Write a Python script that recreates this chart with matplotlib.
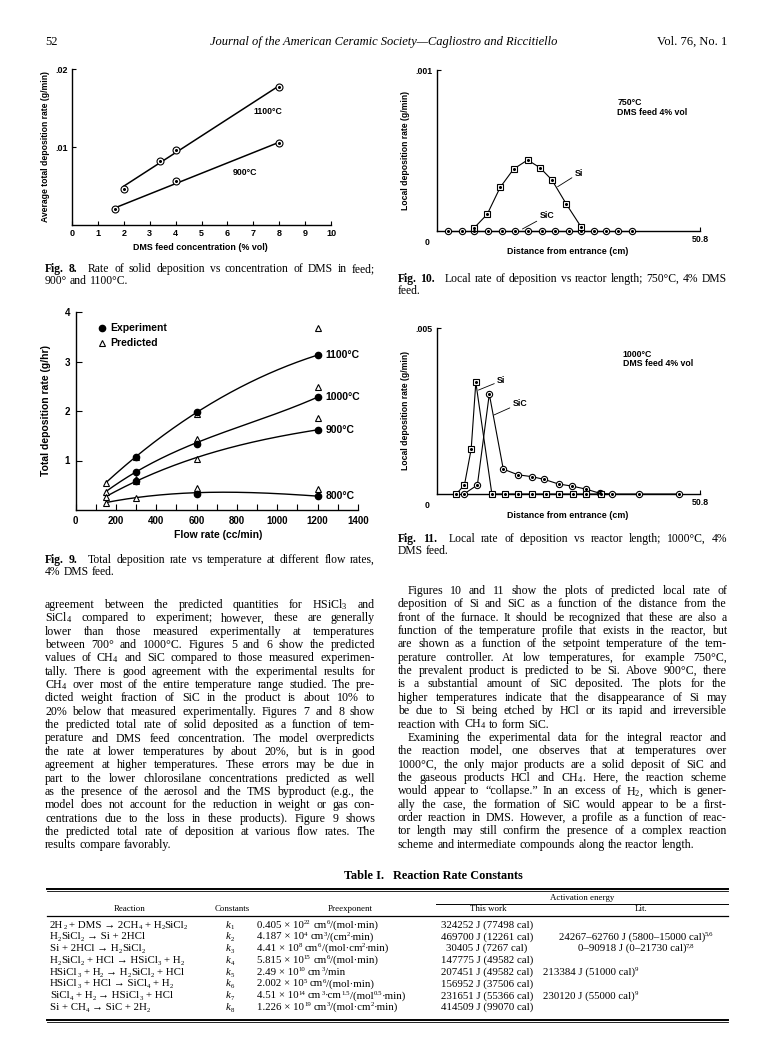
import re
import numpy as np
import matplotlib
matplotlib.use('Agg')
import matplotlib.pyplot as plt

plt.rcParams['mathtext.fontset'] = 'custom'
plt.rcParams['mathtext.rm'] = 'Liberation Serif'
plt.rcParams['mathtext.it'] = 'Liberation Serif:italic'
plt.rcParams['mathtext.bf'] = 'Liberation Serif:bold'
plt.rcParams['mathtext.default'] = 'regular'

SERIF = 'Liberation Serif'
SERIF_FB = ['Liberation Serif', 'DejaVu Serif']
SANS = 'Liberation Sans'

# ---------------- data ----------------
# Fig. 8
fig8_conc_1100 = [2.0, 3.4, 4.0, 8.0]
fig8_rate_1100 = [0.0046, 0.0082, 0.0096, 0.0177]
fig8_conc_900 = [1.65, 4.0, 8.0]
fig8_rate_900 = [0.0020, 0.0056, 0.0105]
fig8_xticks = list(range(0, 11))
fig8_yticks = [0.01, 0.02]
fig8_ylabels = ['.01', '.02']

# Fig. 9
fig9_curve_flow = [150, 300, 600, 1200]
fig9_curve_1100 = [0.55, 1.08, 1.97, 3.13]
fig9_curve_1000 = [0.37, 0.77, 1.36, 2.28]
fig9_curve_900 = [0.27, 0.58, 1.06, 1.62]
fig9_curve_800 = [0.15, 0.25, 0.35, 0.28]
fig9_pred_flow = [150, 300, 600, 1200]
fig9_pred_1100 = [0.55, 1.07, 1.93, 3.68]
fig9_pred_1000 = [0.37, 0.62, 1.43, 2.48]
fig9_pred_900 = [0.27, 0.58, 1.04, 1.85]
fig9_pred_800 = [0.15, 0.24, 0.44, 0.42]
fig9_exp_flow = [300, 600, 1200]
fig9_exp_1100 = [1.08, 1.97, 3.13]
fig9_exp_1000 = [0.77, 1.33, 2.28]
fig9_exp_900 = [0.58, np.nan, 1.62]
fig9_exp_800 = [np.nan, 0.33, 0.28]
fig9_temps = ['1100°C', '1000°C', '900°C', '800°C']
fig9_xticks = [0, 200, 400, 600, 800, 1000, 1200, 1400]
fig9_yticks = [1, 2, 3, 4]

# Fig. 10 (750 C)
fig10_sic_x = [2.2, 4.8, 7.2, 9.8, 12.5, 15.1, 17.6, 20.2, 22.8, 25.4, 27.8, 30.3, 32.6, 35.0, 37.6]
fig10_sic_y = [0, 0, 0, 0, 0, 0, 0, 0, 0, 0, 0, 0, 0, 0, 0]
fig10_si_x = [7.2, 9.7, 12.2, 14.8, 17.5, 19.9, 22.2, 25.0, 27.8]
fig10_si_y = [0.00002, 0.000104, 0.000271, 0.000385, 0.000441, 0.000393, 0.000317, 0.000166, 0.000027]

# Fig. 11 (1000 C)
fig11_si_x = [3.7, 5.3, 6.6, 7.5, 10.6, 13.1, 15.7, 18.4, 21.0, 23.6, 26.3, 28.7, 31.6]
fig11_si_y = [0, 0.00027, 0.00135, 0.00336, 0, 0, 0, 0, 0, 0, 0, 0, 0]
fig11_sic_x = [5.2, 7.8, 10.1, 12.8, 15.6, 18.4, 20.7, 23.5, 26.0, 28.7, 31.5, 33.8, 39.0, 46.7]
fig11_sic_y = [0, 0.00027, 0.00301, 0.00075, 0.00058, 0.00052, 0.00044, 0.0003, 0.00024, 0.00015, 0.00002, 0, 0, 0]

# Table I  (markup: _{..} subscript, ^{..} superscript)
tab_reactions = [
    "2H_{2} + DMS → 2CH_{4} + H_{2}SiCl_{2}",
    "H_{2}SiCl_{2} → Si + 2HCl",
    "Si + 2HCl → H_{2}SiCl_{2}",
    "H_{2}SiCl_{2} + HCl → HSiCl_{3} + H_{2}",
    "HSiCl_{3} + H_{2} → H_{2}SiCl_{2} + HCl",
    "HSiCl_{3} + HCl → SiCl_{4} + H_{2}",
    "SiCl_{4} + H_{2} → HSiCl_{3} + HCl",
    "Si + CH_{4} → SiC + 2H_{2}",
]
tab_constants = ["1", "2", "3", "4", "5", "6", "7", "8"]
tab_preexp = [
    "0.405 × 10^{22} cm^{6}/(mol·min)",
    "4.187 × 10^{4} cm^{3}/(cm^{2}·min)",
    "4.41 × 10^{8} cm^{6}/(mol·cm^{2}·min)",
    "5.815 × 10^{15} cm^{6}/(mol·min)",
    "2.49 × 10^{10} cm^{3}/min",
    "2.002 × 10^{5} cm^{6}/(mol·min)",
    "4.51 × 10^{14} cm^{3}·cm^{1.5}/(mol^{0.5}·min)",
    "1.226 × 10^{19} cm^{3}/(mol·cm^{2}·min)",
]
tab_thiswork = ["324252 J (77498 cal)", "469700 J (12261 cal)", "30405 J (7267 cal)",
                "147775 J (49582 cal)", "207451 J (49582 cal)", "156952 J (37506 cal)",
                "231651 J (55366 cal)", "414509 J (99070 cal)"]
tab_lit = ["", "24267–62760 J (5800–15000 cal)^{5,6}", "0–90918 J (0–21730 cal)^{7,8}",
           "", "213384 J (51000 cal)^{9}", "", "230120 J (55000 cal)^{9}", ""]
tab_lit_align = ['center', 'center', 'center', 'center', 'left', 'center', 'left', 'center']

left_lines = [
    r"agreement between the predicted quantities for HSiCl$_3$ and",
    r"SiCl$_4$ compared to experiment; however, these are generally",
    "lower than those measured experimentally at temperatures",
    "between 700° and 1000°C. Figures 5 and 6 show the predicted",
    r"values of CH$_4$ and SiC compared to those measured experimen-",
    "tally. There is good agreement with the experimental results for",
    r"CH$_4$ over most of the entire temperature range studied. The pre-",
    "dicted weight fraction of SiC in the product is about 10% to",
    "20% below that measured experimentally. Figures 7 and 8 show",
    "the predicted total rate of solid deposited as a function of tem-",
    "perature and DMS feed concentration. The model overpredicts",
    "the rate at lower temperatures by about 20%, but is in good",
    "agreement at higher temperatures. These errors may be due in",
    "part to the lower chlorosilane concentrations predicted as well",
    "as the presence of the aerosol and the TMS byproduct (e.g., the",
    "model does not account for the reduction in weight or gas con-",
    "centrations due to the loss in these products). Figure 9 shows",
    "the predicted total rate of deposition at various flow rates. The",
    "results compare favorably.",
]
right_lines = [
    "Figures 10 and 11 show the plots of predicted local rate of",
    "deposition of Si and SiC as a function of the distance from the",
    "front of the furnace. It should be recognized that these are also a",
    "function of the temperature profile that exists in the reactor, but",
    "are shown as a function of the setpoint temperature of the tem-",
    "perature controller. At low temperatures, for example 750°C,",
    "the prevalent product is predicted to be Si. Above 900°C, there",
    "is a substantial amount of SiC deposited. The plots for the",
    "higher temperatures indicate that the disappearance of Si may",
    "be due to Si being etched by HCl or its rapid and irreversible",
    r"reaction with CH$_4$ to form SiC.",
    "Examining the experimental data for the integral reactor and",
    "the reaction model, one observes that at temperatures over",
    "1000°C, the only major products are a solid deposit of SiC and",
    r"the gaseous products HCl and CH$_4$. Here, the reaction scheme",
    r"would appear to “collapse.” In an excess of H$_2$, which is gener-",
    "ally the case, the formation of SiC would appear to be a first-",
    "order reaction in DMS. However, a profile as a function of reac-",
    "tor length may still confirm the presence of a complex reaction",
    "scheme and intermediate compounds along the reactor length.",
]
right_indent = [0, 11]
right_parend = [10, 19]

# ---------------- figure ----------------
W, H = 768, 1056
fig = plt.figure(figsize=(W / 100, H / 100), dpi=100)
renderer = fig.canvas.get_renderer()


def ptext(x, y, s, **kw):
    return fig.text(x / W, 1 - y / H, s, **kw)


def measure(s, **kw):
    t = fig.text(0, 0, s, **kw)
    w = t.get_window_extent(renderer).width
    t.remove()
    return w


_adv_cache = {}


def advance(s, fs, family=SERIF_FB, style='normal'):
    key = (s, fs, tuple(family), style)
    if key not in _adv_cache:
        base = measure('xx', fontsize=fs, family=family, style=style)
        _adv_cache[key] = measure('x' + s + 'x', fontsize=fs, family=family, style=style) - base
    return _adv_cache[key]


TOK = re.compile(r'(\^\{[^}]*\}|_\{[^}]*\})')


def rich(x, yb, s, fs, ha='left', family=SERIF_FB):
    em = fs * 100 / 72
    pieces = []
    for p in TOK.split(s):
        if not p:
            continue
        if p.startswith('^{'):
            pieces.append((p[2:-1], fs * 0.62, -0.34 * em))
        elif p.startswith('_{'):
            pieces.append((p[2:-1], fs * 0.62, 0.17 * em))
        else:
            pieces.append((p, fs, 0.0))
    advs = [advance(t, f, family) for t, f, _ in pieces]
    total = sum(advs)
    x0 = x - total / 2 if ha == 'center' else (x - total if ha == 'right' else x)
    cx = x0
    for (t, f, dy), a in zip(pieces, advs):
        lead = len(t) - len(t.lstrip(' '))
        core = t.strip(' ')
        if core:
            cx_core = cx + (advance(' ' * lead, f, family) if lead else 0.0)
            ptext(cx_core, yb + dy, core, fontsize=f, family=family, ha='left', va='baseline')
        cx += a


def hrule(x0, x1, y, lw=1.0):
    fig.add_artist(plt.Line2D([x0 / W, x1 / W], [1 - y / H, 1 - y / H], color='black', lw=lw,
                              transform=fig.transFigure))


def set_line(x0, x1, yb, s, fs, justify=True, nbold=0, extra=0.0):
    words = s.split(' ')
    for attempt in range(6):
        kws = [dict(fontsize=fs, family=SERIF, fontweight=('bold' if i < nbold else 'normal'))
               for i in range(len(words))]
        ws = [measure(w, **k) for w, k in zip(words, kws)]
        sp = measure('a a', fontsize=fs, family=SERIF) - 2 * measure('a', fontsize=fs, family=SERIF)
        gaps = [sp] * (len(words) - 1)
        if nbold and len(words) > nbold:
            gaps[nbold - 1] += extra
        natural = sum(ws) + sum(gaps) - 0.35 * sp * len(gaps)
        if natural > (x1 - x0):
            fs = fs * (x1 - x0) / natural * 0.995
            continue
        break
    if justify and len(gaps) > 0:
        rest = (x1 - x0) - sum(ws) - sum(gaps)
        gaps = [g + rest / len(gaps) for g in gaps]
    x = x0
    for i, (w, k) in enumerate(zip(words, kws)):
        ptext(x, yb, w, ha='left', va='baseline', **k)
        if i < len(gaps):
            x += ws[i] + gaps[i]


def chart_axes(l, t, r, b):
    ax = fig.add_axes([l / W, 1 - b / H, (r - l) / W, (b - t) / H])
    for s in ['top', 'right']:
        ax.spines[s].set_visible(False)
    for s in ['left', 'bottom']:
        ax.spines[s].set_linewidth(1.0)
    ax.patch.set_alpha(0)
    return ax


def dot_markers(ax, x, y, marker, ms=5.0):
    ax.plot(x, y, linestyle='none', marker=marker, ms=ms, mfc='white', mec='black', mew=0.8,
            clip_on=False, zorder=4)
    ax.plot(x, y, linestyle='none', marker='o', ms=1.2, color='black', clip_on=False, zorder=5)


# header
ptext(45, 45, "52", fontsize=9, family=SERIF, va='baseline', ha='left')
ptext(384, 45, "Journal of the American Ceramic Society—Cagliostro and Riccitiello", fontsize=9,
      family=SERIF, style='italic', va='baseline', ha='center')
ptext(727, 45, "Vol. 76, No. 1", fontsize=9, family=SERIF, va='baseline', ha='right')

# ---------- Fig. 8 ----------
ax8 = chart_axes(72, 69, 331, 225)
ax8.set_xlim(0, 10)
ax8.set_ylim(0, 0.02)
ax8.set_xticks(fig8_xticks, labels=[str(v) for v in fig8_xticks], fontsize=6.5, fontweight='bold', family=SANS)
ax8.set_yticks(fig8_yticks, labels=fig8_ylabels, fontsize=6.5, fontweight='bold', family=SANS)
ax8.tick_params(direction='in', length=3, width=0.8, pad=3)
for xs_, ys_ in [(fig8_conc_1100, fig8_rate_1100), (fig8_conc_900, fig8_rate_900)]:
    c = np.polyfit(xs_, ys_, 1)
    xx = np.array([min(xs_), max(xs_)])
    ax8.plot(xx, np.polyval(c, xx), color='black', lw=1.1)
    dot_markers(ax8, xs_, ys_, 'o')
ax8.text(7.0, 0.0145, '1100°C', fontsize=6.3, fontweight='bold', family=SANS, va='center')
ax8.text(6.2, 0.0067, '900°C', fontsize=6.3, fontweight='bold', family=SANS, va='center')
ptext(46, 147, 'Average total deposition rate (g/min)', rotation=90, fontsize=6.2, fontweight='bold',
      family=SANS, ha='center', va='center')
ptext(200, 247, 'DMS feed concentration (% vol)', fontsize=6.4, fontweight='bold', family=SANS,
      ha='center', va='center')

# ---------- Fig. 10 ----------
ax10 = chart_axes(437, 70, 700, 231)
ax10.set_xlim(0, 50.8)
ax10.set_ylim(0, 0.001)
ax10.set_xticks([50.8], labels=['50.8'], fontsize=6.3, fontweight='bold', family=SANS)
ax10.set_yticks([0.001], labels=['.001'], fontsize=6.3, fontweight='bold', family=SANS)
ax10.tick_params(direction='in', length=3, width=0.8, pad=3)
ax10.text(-0.03, -0.045, '0', transform=ax10.transAxes, fontsize=6.3, fontweight='bold', family=SANS,
          ha='right', va='top')
ax10.plot(fig10_sic_x, fig10_sic_y, color='black', lw=0.8, clip_on=False)
ax10.plot(fig10_si_x, fig10_si_y, color='black', lw=0.8, clip_on=False)
dot_markers(ax10, fig10_sic_x, fig10_sic_y, 'o', ms=4.5)
dot_markers(ax10, fig10_si_x, fig10_si_y, 's', ms=4.5)
ax10.annotate('Si', xy=(23.3, 0.000275), xytext=(26.6, 0.000358), fontsize=6.3, fontweight='bold',
              family=SANS, va='center', arrowprops=dict(arrowstyle='-', lw=0.6, shrinkA=0, shrinkB=0))
ax10.annotate('SiC', xy=(16.5, 0.0000124), xytext=(19.8, 0.0000952), fontsize=6.3, fontweight='bold',
              family=SANS, va='center', arrowprops=dict(arrowstyle='-', lw=0.6, shrinkA=0, shrinkB=0))
ax10.text(34.8, 0.0008, '750°C', fontsize=6.3, fontweight='bold', family=SANS, va='center')
ax10.text(34.8, 0.000733, 'DMS feed 4% vol', fontsize=6.3, fontweight='bold', family=SANS, va='center')
ptext(405, 150, 'Local deposition rate (g/min)', rotation=90, fontsize=6.2, fontweight='bold',
      family=SANS, ha='center', va='center')
ptext(568, 251, 'Distance from entrance (cm)', fontsize=6.4, fontweight='bold', family=SANS,
      ha='center', va='center')

# ---------- Fig. 9 ----------
ax9 = chart_axes(75.5, 312, 358, 510)
ax9.set_xlim(0, 1400)
ax9.set_ylim(0, 4)
ax9.set_xticks(fig9_xticks, labels=[str(v) for v in fig9_xticks], fontsize=7, fontweight='bold', family=SANS)
ax9.set_xticks(np.arange(100, 1400, 200), minor=True)
ax9.set_yticks(fig9_yticks, labels=[str(v) for v in fig9_yticks], fontsize=7, fontweight='bold', family=SANS)
ax9.tick_params(which='both', direction='in', length=4, width=0.8, pad=4)
xs9 = np.linspace(min(fig9_curve_flow), max(fig9_curve_flow), 200)
for cv in [fig9_curve_1100, fig9_curve_1000, fig9_curve_900, fig9_curve_800]:
    cf = np.polyfit(fig9_curve_flow, cv, 3)
    ax9.plot(xs9, np.polyval(cf, xs9), color='black', lw=1.0)
for pv in [fig9_pred_1100, fig9_pred_1000, fig9_pred_900, fig9_pred_800]:
    ax9.plot(fig9_pred_flow, pv, linestyle='none', marker='^', ms=4.5, mfc='white', mec='black',
             mew=0.8, clip_on=False, zorder=4)
for ev in [fig9_exp_1100, fig9_exp_1000, fig9_exp_900, fig9_exp_800]:
    ax9.plot(fig9_exp_flow, ev, linestyle='none', marker='o', ms=4.5, color='black', clip_on=False,
             zorder=5)
for lab, ev in zip(fig9_temps, [fig9_exp_1100, fig9_exp_1000, fig9_exp_900, fig9_exp_800]):
    ax9.text(1240, ev[-1], lab, fontsize=7.5, fontweight='bold', family=SANS, va='center',
             clip_on=False)
ax9.plot([130], [3.68], linestyle='none', marker='o', ms=4.5, color='black', clip_on=False)
ax9.plot([130], [3.37], linestyle='none', marker='^', ms=4.5, mfc='white', mec='black', mew=0.8,
         clip_on=False)
ax9.text(170, 3.68, 'Experiment', fontsize=7.5, fontweight='bold', family=SANS, va='center')
ax9.text(170, 3.37, 'Predicted', fontsize=7.5, fontweight='bold', family=SANS, va='center')
ptext(46, 411, 'Total deposition rate (g/hr)', rotation=90, fontsize=7.5, fontweight='bold',
      family=SANS, ha='center', va='center')
ptext(218, 535, 'Flow rate (cc/min)', fontsize=7.5, fontweight='bold', family=SANS,
      ha='center', va='center')

# ---------- Fig. 11 ----------
ax11 = chart_axes(437, 328, 700, 494)
ax11.set_xlim(0, 50.8)
ax11.set_ylim(0, 0.005)
ax11.set_xticks([50.8], labels=['50.8'], fontsize=6.3, fontweight='bold', family=SANS)
ax11.set_yticks([0.005], labels=['.005'], fontsize=6.3, fontweight='bold', family=SANS)
ax11.tick_params(direction='in', length=3, width=0.8, pad=3)
ax11.text(-0.03, -0.045, '0', transform=ax11.transAxes, fontsize=6.3, fontweight='bold', family=SANS,
          ha='right', va='top')
ax11.plot(fig11_sic_x, fig11_sic_y, color='black', lw=0.8, clip_on=False)
ax11.plot(fig11_si_x, fig11_si_y, color='black', lw=0.8, clip_on=False)
dot_markers(ax11, fig11_sic_x, fig11_sic_y, 'o', ms=4.5)
dot_markers(ax11, fig11_si_x, fig11_si_y, 's', ms=4.5)
ax11.annotate('Si', xy=(8.0, 0.00313), xytext=(11.6, 0.00341), fontsize=6.3, fontweight='bold',
              family=SANS, va='center', arrowprops=dict(arrowstyle='-', lw=0.6, shrinkA=0, shrinkB=0))
ax11.annotate('SiC', xy=(11.0, 0.00238), xytext=(14.6, 0.00273), fontsize=6.3, fontweight='bold',
              family=SANS, va='center', arrowprops=dict(arrowstyle='-', lw=0.6, shrinkA=0, shrinkB=0))
ax11.text(35.9, 0.00419, '1000°C', fontsize=6.3, fontweight='bold', family=SANS, va='center')
ax11.text(35.9, 0.00392, 'DMS feed 4% vol', fontsize=6.3, fontweight='bold', family=SANS, va='center')
ptext(405, 411, 'Local deposition rate (g/min)', rotation=90, fontsize=6.2, fontweight='bold',
      family=SANS, ha='center', va='center')
ptext(568, 515, 'Distance from entrance (cm)', fontsize=6.4, fontweight='bold', family=SANS,
      ha='center', va='center')

# ---------- captions ----------
CFS = 8.4
LX0, LX1 = 45, 375
RX0, RX1 = 398, 727
set_line(LX0, LX1, 272, "Fig. 8. Rate of solid deposition vs concentration of DMS in feed;", CFS, True, 2, 6)
set_line(LX0, LX1, 284, "900° and 1100°C.", CFS, False)
set_line(RX0, RX1, 282, "Fig. 10. Local rate of deposition vs reactor length; 750°C, 4% DMS", CFS, True, 2, 6)
set_line(RX0, RX1, 294, "feed.", CFS, False)
set_line(LX0, LX1, 563, "Fig. 9. Total deposition rate vs temperature at different flow rates,", CFS, True, 2, 6)
set_line(LX0, LX1, 575, "4% DMS feed.", CFS, False)
set_line(RX0, RX1, 542, "Fig. 11. Local rate of deposition vs reactor length; 1000°C, 4%", CFS, True, 2, 6)
set_line(RX0, RX1, 554, "DMS feed.", CFS, False)

# ---------- body text ----------
BFS = 8.6
LS = 13.35
for i, s in enumerate(left_lines):
    set_line(LX0, LX1, 608 + LS * i, s, BFS, justify=(i < len(left_lines) - 1))
for i, s in enumerate(right_lines):
    ind = 10 if i in right_indent else 0
    set_line(RX0 + ind, RX1, 594 + LS * i, s, BFS, justify=(i not in right_parend))

# ---------- table ----------
TFS = 7.8
HFS = 6.4
ptext(384, 879, "Table I.", fontsize=8.8, fontweight='bold', family=SERIF, ha='right', va='baseline')
ptext(393, 879, "Reaction Rate Constants", fontsize=8.8, fontweight='bold', family=SERIF, ha='left',
      va='baseline')
hrule(47, 728, 888.5, 1.4)
hrule(47, 728, 890.5, 0.6)
ptext(582, 900.5, "Activation energy", fontsize=HFS, family=SERIF, ha='center', va='baseline')
hrule(436, 728, 903.5, 0.7)
hdr_y = 911
ptext(130, hdr_y, "Reaction", fontsize=HFS, family=SERIF, ha='center', va='baseline')
ptext(232, hdr_y, "Constants", fontsize=HFS, family=SERIF, ha='center', va='baseline')
ptext(350, hdr_y, "Preexponent", fontsize=HFS, family=SERIF, ha='center', va='baseline')
ptext(488, hdr_y, "This work", fontsize=HFS, family=SERIF, ha='center', va='baseline')
ptext(641, hdr_y, "Lit.", fontsize=HFS, family=SERIF, ha='center', va='baseline')
hrule(47, 728, 915.5, 0.9)
kw_em = TFS * 100 / 72
for i in range(len(tab_reactions)):
    yb = 927.5 + 11.8 * i
    rich(50, yb, tab_reactions[i], TFS)
    ptext(226, yb, "k", fontsize=TFS, family=SERIF, style='italic', ha='left', va='baseline')
    ptext(226 + advance('k', TFS, SERIF_FB, 'italic'), yb + 0.17 * kw_em, tab_constants[i],
          fontsize=TFS * 0.62, family=SERIF, ha='left', va='baseline')
    rich(257, yb, tab_preexp[i], TFS)
    rich(487, yb, tab_thiswork[i], TFS, ha='center')
    if tab_lit[i]:
        xl = 636 if tab_lit_align[i] == 'center' else 543
        rich(xl, yb, tab_lit[i], TFS, ha=tab_lit_align[i])
hrule(47, 728, 1019.5, 1.4)
hrule(47, 728, 1021.5, 0.6)

fig.savefig('out.png', dpi=100)
